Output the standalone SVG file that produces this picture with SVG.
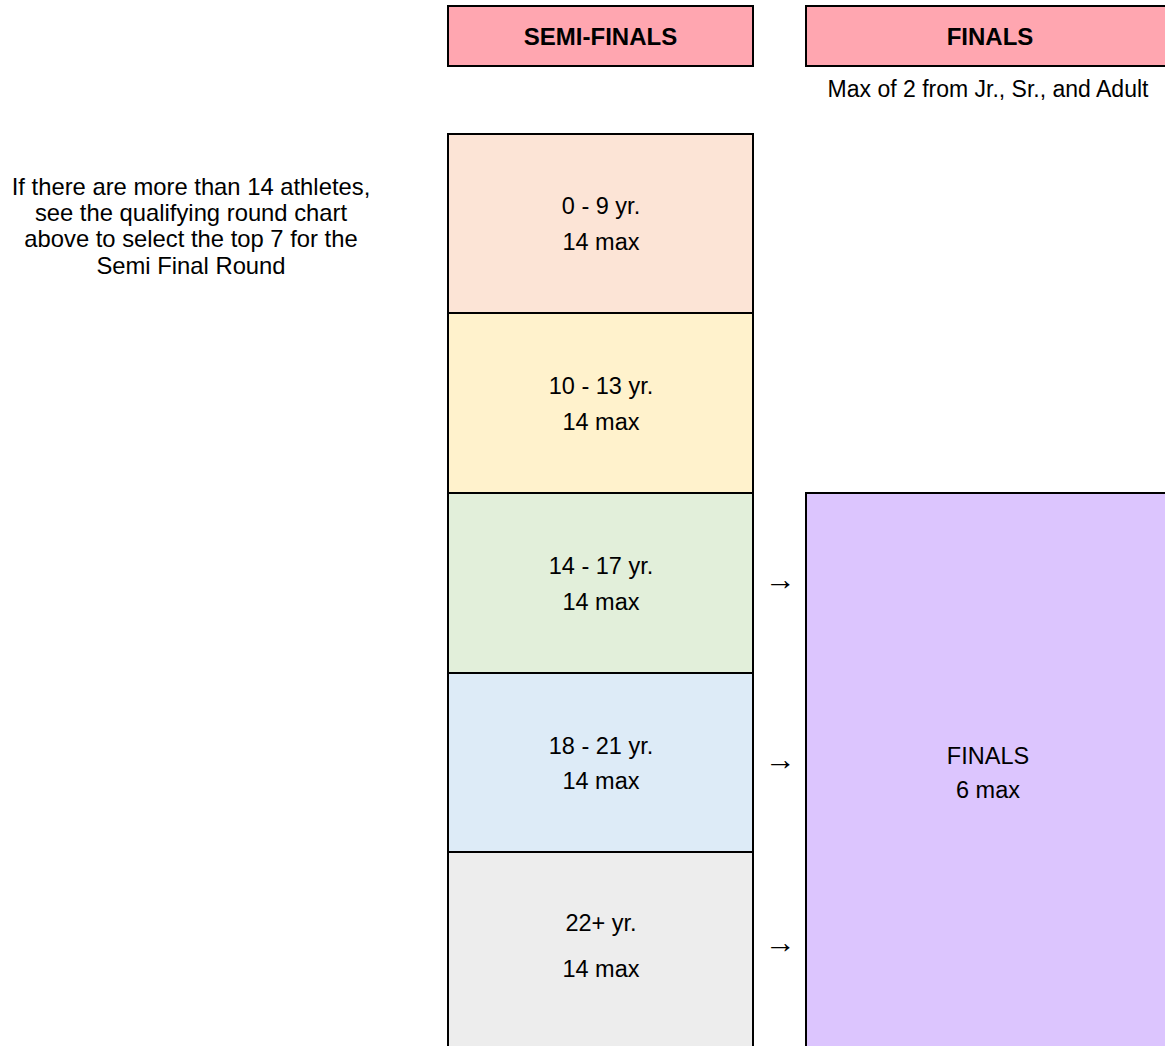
<svg xmlns="http://www.w3.org/2000/svg" width="1165" height="1046" viewBox="0 0 1165 1046">
<style>
.box{stroke:#000;stroke-width:2}
.t{font-family:"Liberation Sans",Arial,sans-serif;font-size:23.5px;fill:#000;text-anchor:middle}
.b{font-weight:bold;font-size:24px}
.s{font-size:23px}
.n{font-size:23.8px}
.arr{font-family:"Liberation Sans",Arial,sans-serif;font-size:31px;fill:#000;text-anchor:middle}
</style>
<rect width="1165" height="1046" fill="#fff"/>
<g id="hdr-semi"><rect class="box" x="448" y="6" width="305" height="60" fill="#ffa6b0"/><text class="t b" x="600.5" y="44.5">SEMI-FINALS</text></g>
<g id="hdr-finals"><rect class="box" x="806" y="6" width="370" height="60" fill="#ffa6b0"/><text class="t b" x="990" y="44.5">FINALS</text></g>
<g id="note-finals"><text class="t s" x="988" y="97">Max of 2 from Jr., Sr., and Adult</text></g>
<g id="note-left"><text class="t n" x="191" y="194.5">If there are more than 14 athletes,</text><text class="t n" x="191" y="220.5">see the qualifying round chart</text><text class="t n" x="191" y="246.5">above to select the top 7 for the</text><text class="t n" x="191" y="273.5">Semi Final Round</text></g>
<g id="age-0-9"><rect class="box" x="448" y="134" width="305" height="179" fill="#fce4d6"/><text class="t" x="601" y="213.5">0 - 9 yr.</text><text class="t" x="601" y="249.5">14 max</text></g>
<g id="age-10-13"><rect class="box" x="448" y="313" width="305" height="180" fill="#fff2cc"/><text class="t" x="601" y="394">10 - 13 yr.</text><text class="t" x="601" y="429.5">14 max</text></g>
<g id="age-14-17"><rect class="box" x="448" y="493" width="305" height="180" fill="#e2efda"/><text class="t" x="601" y="574">14 - 17 yr.</text><text class="t" x="601" y="609.5">14 max</text></g>
<g id="age-18-21"><rect class="box" x="448" y="673" width="305" height="179" fill="#ddebf7"/><text class="t" x="601" y="754">18 - 21 yr.</text><text class="t" x="601" y="788.5">14 max</text></g>
<g id="age-22"><rect class="box" x="448" y="852" width="305" height="210" fill="#ededed"/><text class="t" x="601" y="930.5">22+ yr.</text><text class="t" x="601" y="976.5">14 max</text></g>
<g id="finals"><rect class="box" x="806" y="493" width="370" height="570" fill="#dcc5fe"/><text class="t" x="988" y="763.5">FINALS</text><text class="t" x="988" y="797.5">6 max</text></g>
<g id="connectors"><text class="arr" x="780.5" y="590">→</text><text class="arr" x="780.5" y="770">→</text><text class="arr" x="780.5" y="953">→</text></g>
</svg>
